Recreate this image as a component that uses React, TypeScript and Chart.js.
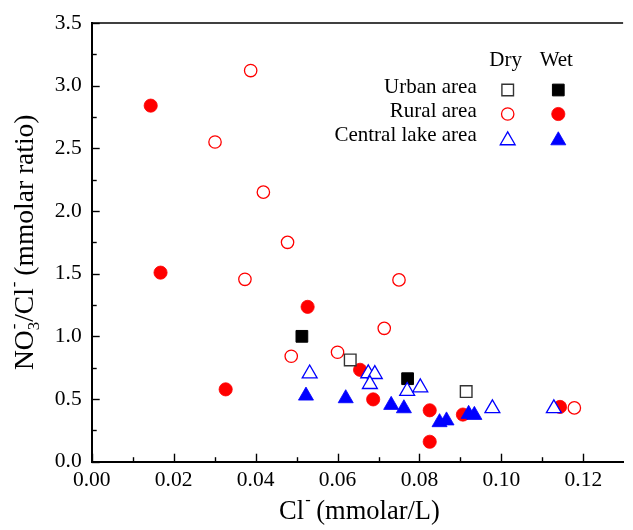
import React, { useEffect, useRef } from 'react';
import { Chart, registerables } from 'chart.js';

Chart.register(...registerables);

// ---------- data (Cl- mmol/L, NO3-/Cl- molar ratio) ----------
const urbanDryX = [0.0631, 0.0914];
const urbanDryY = [0.812, 0.559];
const urbanWetX = [0.0513, 0.0771];
const urbanWetY = [1.0, 0.662];

const ruralDryX = [0.0388, 0.0301, 0.0419, 0.0478, 0.0374, 0.075, 0.0714, 0.0487, 0.06, 0.1178];
const ruralDryY = [3.12, 2.55, 2.15, 1.75, 1.455, 1.45, 1.064, 0.841, 0.873, 0.429];
const ruralWetX = [0.0144, 0.0168, 0.0527, 0.0327, 0.0655, 0.0687, 0.0825, 0.0825, 0.0906, 0.1143];
const ruralWetY = [2.84, 1.508, 1.235, 0.577, 0.733, 0.497, 0.41, 0.159, 0.376, 0.437];

const lakeDryX = [0.0532, 0.0675, 0.0691, 0.0679, 0.077, 0.0802, 0.0978, 0.1128];
const lakeDryY = [0.703, 0.704, 0.698, 0.618, 0.563, 0.592, 0.425, 0.425];
const lakeWetX = [0.0523, 0.062, 0.0731, 0.0762, 0.0849, 0.0866, 0.092, 0.0934];
const lakeWetY = [0.526, 0.505, 0.452, 0.425, 0.314, 0.328, 0.38, 0.372];

const legendRows = ['Urban area', 'Rural area', 'Central lake area'];
const legendCols = ['Dry', 'Wet'];

const X_MIN = 0;
const X_MAX = 0.1297;
const X_STEP = 0.02;
const Y_MIN = 0;
const Y_MAX = 3.5;
const Y_STEP = 0.5;

// titles as rich-text segments (main text + optional stacked sub/sup)
const yTitle = [
  { t: 'NO', sub: '3', sup: '-' },
  { t: '/Cl', sup: '-' },
  { t: ' (mmolar ratio)' },
];
const xTitle = [{ t: 'Cl', sup: '-' }, { t: ' (mmolar/L)' }];

const SERIF = '"Liberation Serif", "Times New Roman", serif';

const zip = (xs: number[], ys: number[]) => xs.map((x, i) => ({ x, y: ys[i] }));

type Seg = { t: string; sub?: string; sup?: string };

function richWidth(ctx: CanvasRenderingContext2D, segs: Seg[], size: number) {
  let w = 0;
  for (const s of segs) {
    ctx.font = `${size}px ${SERIF}`;
    w += ctx.measureText(s.t).width;
    if (s.sub || s.sup) {
      ctx.font = `${size * 0.62}px ${SERIF}`;
      w += Math.max(s.sub ? ctx.measureText(s.sub).width : 0, s.sup ? ctx.measureText(s.sup).width : 0);
    }
  }
  return w;
}

function drawRich(ctx: CanvasRenderingContext2D, segs: Seg[], size: number, x: number, y: number) {
  ctx.textAlign = 'left';
  ctx.textBaseline = 'alphabetic';
  let cx = x;
  for (const s of segs) {
    ctx.font = `${size}px ${SERIF}`;
    ctx.fillText(s.t, cx, y);
    cx += ctx.measureText(s.t).width;
    if (s.sub || s.sup) {
      ctx.font = `${size * 0.62}px ${SERIF}`;
      let w = 0;
      if (s.sub) {
        ctx.fillText(s.sub, cx, y + size * 0.2);
        w = Math.max(w, ctx.measureText(s.sub).width);
      }
      if (s.sup) {
        ctx.fillText(s.sup, cx + 1, y - size * 0.5);
        w = Math.max(w, ctx.measureText(s.sup).width);
      }
      cx += w;
    }
  }
}

function marker(ctx: CanvasRenderingContext2D, style: string, x: number, y: number, r: number) {
  ctx.beginPath();
  if (style === 'rect') {
    const s = r * Math.SQRT1_2;
    ctx.rect(x - s, y - s, 2 * s, 2 * s);
  } else if (style === 'circle') {
    ctx.arc(x, y, r, 0, Math.PI * 2);
  } else {
    for (let k = 0; k < 3; k++) {
      const a = (k * 2 * Math.PI) / 3;
      const px = x + Math.sin(a) * r;
      const py = y - Math.cos(a) * r;
      if (k === 0) ctx.moveTo(px, py);
      else ctx.lineTo(px, py);
    }
    ctx.closePath();
  }
}

const frameTicksPlugin = {
  id: 'frameTicks',
  beforeDatasetsDraw(chart: any) {
    const { ctx, chartArea, scales } = chart;
    const xs = scales.x;
    const ys = scales.y;
    ctx.save();
    ctx.strokeStyle = '#000';
    ctx.lineWidth = 1.5;
    // top frame line
    ctx.beginPath();
    ctx.moveTo(chartArea.left, chartArea.top);
    ctx.lineTo(chartArea.right, chartArea.top);
    ctx.stroke();
    ctx.lineWidth = 1.4;
    // x ticks (inward)
    for (let v = X_MIN; v <= X_MAX + 1e-9; v += X_STEP / 2) {
      const i = Math.round(v / (X_STEP / 2));
      const len = i % 2 === 0 ? 8 : 4.5;
      const px = Math.round(xs.getPixelForValue(v)) + 0.5;
      if (px > chartArea.right - 1) continue;
      ctx.beginPath();
      ctx.moveTo(px, chartArea.bottom);
      ctx.lineTo(px, chartArea.bottom - len);
      ctx.stroke();
    }
    // y ticks (inward)
    for (let v = Y_MIN; v <= Y_MAX + 1e-9; v += Y_STEP / 2) {
      const i = Math.round(v / (Y_STEP / 2));
      const len = i % 2 === 0 ? 8 : 5;
      const py = Math.round(ys.getPixelForValue(v)) + 0.5;
      ctx.beginPath();
      ctx.moveTo(chartArea.left, py);
      ctx.lineTo(chartArea.left + len, py);
      ctx.stroke();
    }
    ctx.restore();
  },
  afterDraw(chart: any) {
    const { ctx, chartArea } = chart;
    ctx.save();
    ctx.fillStyle = '#000';
    // axis titles
    const yts = 27.5;
    const yw = richWidth(ctx, yTitle, yts);
    ctx.save();
    ctx.translate(33, (chartArea.top + chartArea.bottom) / 2);
    ctx.rotate(-Math.PI / 2);
    drawRich(ctx, yTitle, yts, -yw / 2, 0);
    ctx.restore();
    const xts = 26.5;
    const xw = richWidth(ctx, xTitle, xts);
    drawRich(ctx, xTitle, xts, 359.5 - xw / 2, 518.5);

    // legend
    const colX = [507.7, 558.3];
    const rowY = [90, 114, 138.3];
    ctx.font = `21px ${SERIF}`;
    ctx.textAlign = 'center';
    ctx.textBaseline = 'alphabetic';
    legendCols.forEach((c, i) => ctx.fillText(c, colX[i] - 2, 66));
    ctx.textAlign = 'right';
    legendRows.forEach((r, i) => ctx.fillText(r, 476.7, rowY[i] + 3));
    const metas = chart.data.datasets;
    // datasets order: lakeWet, lakeDry, urbanWet, urbanDry, ruralWet, ruralDry
    const grid = [
      [3, 2],
      [5, 4],
      [1, 0],
    ];
    grid.forEach((row, ri) => {
      row.forEach((di, ci) => {
        const ds = metas[di];
        const isTri = ds.pointStyle === 'triangle';
        const y = rowY[ri] + (isTri ? ds.pointRadius * 0.25 : 0);
        marker(ctx, ds.pointStyle, colX[ci], y, ds.pointRadius);
        ctx.fillStyle = ds.pointBackgroundColor;
        ctx.fill();
        if (ds.pointBorderWidth > 0) {
          ctx.strokeStyle = ds.pointBorderColor;
          ctx.lineWidth = ds.pointBorderWidth;
          ctx.stroke();
        }
      });
    });
    ctx.restore();
  },
};

function ds(label: string, data: any[], style: string, r: number, fill: string, stroke: string, bw: number) {
  return {
    label,
    data,
    pointStyle: style,
    pointRadius: r,
    pointHoverRadius: r,
    pointBackgroundColor: fill,
    pointBorderColor: stroke,
    pointBorderWidth: bw,
    backgroundColor: fill,
    borderColor: stroke,
    showLine: false,
  };
}

export default function App() {
  const ref = useRef<HTMLCanvasElement>(null);
  useEffect(() => {
    document.body.style.margin = '0';
    document.body.style.overflow = 'hidden';
    const canvas = ref.current!;
    const tickFont = { family: SERIF, size: 21.5 };
    const chart = new Chart(canvas, {
      type: 'scatter',
      data: {
        datasets: [
          ds('Central lake area (Wet)', zip(lakeWetX, lakeWetY), 'triangle', 8.7, '#0000ff', '#0000ff', 0.8),
          ds('Central lake area (Dry)', zip(lakeDryX, lakeDryY), 'triangle', 8.6, '#ffffff', '#0000ff', 1.3),
          ds('Urban area (Wet)', zip(urbanWetX, urbanWetY), 'rect', 8.3, '#000000', '#000000', 1),
          ds('Urban area (Dry)', zip(urbanDryX, urbanDryY), 'rect', 8.2, '#ffffff', '#333333', 1.4),
          ds('Rural area (Wet)', zip(ruralWetX, ruralWetY), 'circle', 6.6, '#ff0000', '#ff0000', 0.8),
          ds('Rural area (Dry)', zip(ruralDryX, ruralDryY), 'circle', 6.2, '#ffffff', '#ff0000', 1.3),
        ] as any,
      },
      options: {
        animation: false,
        responsive: false,
        devicePixelRatio: 1,
        layout: { padding: { top: 20.7, right: 0, left: 0, bottom: 0 } },
        plugins: { legend: { display: false }, tooltip: { enabled: false }, title: { display: false } },
        events: [],
        scales: {
          x: {
            type: 'linear',
            min: X_MIN,
            max: X_MAX,
            grid: { display: false, drawTicks: false },
            border: { display: true, color: '#000', width: 2 },
            ticks: {
              stepSize: X_STEP,
              includeBounds: false,
              maxRotation: 0,
              autoSkip: false,
              color: '#000',
              font: tickFont,
              padding: 6,
              callback: (v: any) => Number(v).toFixed(2),
            },
            afterFit: (s: any) => {
              s.height = 68.3;
            },
          },
          y: {
            type: 'linear',
            min: Y_MIN,
            max: Y_MAX,
            grid: { display: false, drawTicks: false },
            border: { display: true, color: '#000', width: 2 },
            ticks: {
              stepSize: Y_STEP,
              includeBounds: false,
              autoSkip: false,
              color: '#000',
              font: tickFont,
              padding: 10,
              callback: (v: any) => Number(v).toFixed(1),
            },
            afterFit: (s: any) => {
              s.width = 91.7;
            },
          },
        },
      } as any,
      plugins: [frameTicksPlugin],
    });
    return () => chart.destroy();
  }, []);
  return (
    <div style={{ width: 633, height: 530 }}>
      <canvas ref={ref} width={633} height={530} style={{ display: 'block' }} />
    </div>
  );
}
